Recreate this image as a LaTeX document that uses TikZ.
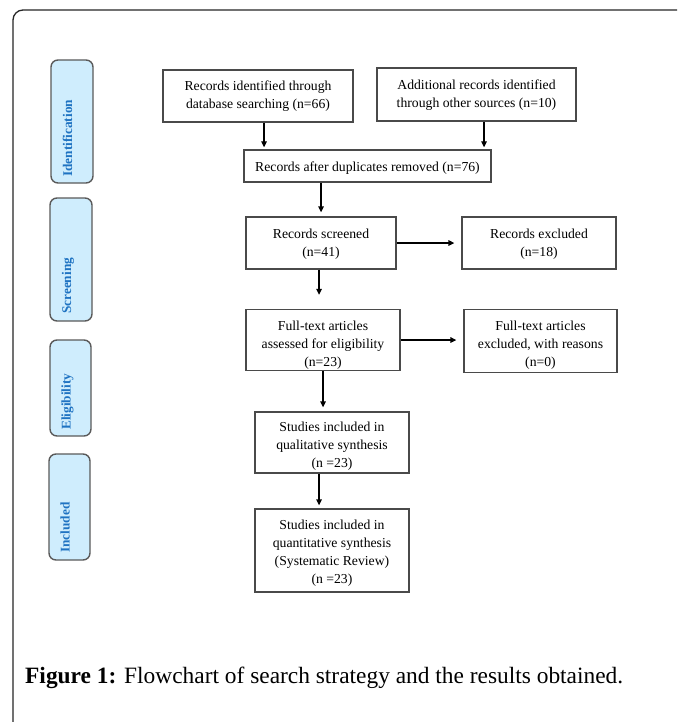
\documentclass[tikz,border=0pt]{standalone}
\usepackage{fontspec}
\setmainfont{Liberation Serif}
\usetikzlibrary{arrows.meta}
\definecolor{pillfill}{HTML}{CFEDFD}
\definecolor{pilltext}{HTML}{1F73C2}
\definecolor{pillline}{HTML}{5A5A5A}
\definecolor{boxline}{HTML}{4A4A4A}
\begin{document}
\begin{tikzpicture}[x=1pt,y=-1pt,
  box/.style n args={2}{draw=boxline, line width=1.3pt, minimum width=#1, minimum height=#2, inner sep=0pt},
  txt/.style={align=center, inner sep=0pt, font=\fontsize{13.7}{18}\selectfont},
  pill/.style n args={2}{draw=pillline, fill=pillfill, line width=1.4pt, rounded corners=7pt, minimum width=#1, minimum height=#2, inner sep=0pt},
  pilllab/.style={rotate=90, anchor=base west, inner sep=0pt, text=pilltext, font=\fontsize{13.3}{14}\selectfont\bfseries},
  arr/.style={draw=black, line width=1.3pt, -{Triangle[length=6pt,width=5.5pt]}}]
\useasboundingbox (0,0) rectangle (677,722);
\fill[white] (0,0) rectangle (677,722);
% outer frame
\draw[line width=1.3pt, black!85, rounded corners=10pt] (13,722) -- (13,10) -- (677,10);

% phase pills
\node[pill={42}{123}] (pid) at (72,121.5) {};
\node[pilllab] (lid) at (72,177) {Identification};
\node[pill={42}{123}] (psc) at (71,259.5) {};
\node[pilllab] (lsc) at (71,314) {Screening};
\node[pill={41}{96}] (pel) at (70.5,388) {};
\node[pilllab] (lel) at (70.5,430) {Eligibility};
\node[pill={41}{106}] (pin) at (69.5,507) {};
\node[pilllab] (lin) at (69.5,553) {Included};

% boxes
\node[box={190}{52}] (b1) at (258,96) {};
\node[txt] (t1) at (258,96) {Records identified through\\database searching (n=66)};
\node[box={199}{53}] (b2) at (476.5,94.5) {};
\node[txt] (t2) at (476.5,95) {Additional records identified\\through other sources (n=10)};
\node[box={247}{32}] (b3) at (367.5,166) {};
\node[txt] (t3) at (367.5,168) {Records after duplicates removed (n=76)};
\node[box={150}{52}] (s) at (321,243) {};
\node[txt] (ts) at (321,244) {Records screened\\(n=41)};
\node[box={154}{52}] (ex) at (539,243) {};
\node[txt] (tex) at (539,244) {Records excluded\\(n=18)};
\node[box={154}{61}] (f) at (323,340) {};
\node[txt] (tf) at (323,345) {Full-text articles\\assessed for eligibility\\(n=23)};
\node[box={153}{63}] (er) at (540.5,341) {};
\node[txt] (ter) at (540.5,345) {Full-text articles\\excluded, with reasons\\(n=0)};
\node[box={154}{61}] (q) at (332,442.5) {};
\node[txt] (tq) at (332,446.5) {Studies included in\\qualitative synthesis\\(n =23)};
\node[box={154}{83}] (qt) at (332,550.5) {};
\node[txt] (tqt) at (332,553) {Studies included in\\quantitative synthesis\\(Systematic Review)\\(n =23)};

% connectors
\draw[arr, shorten >=2pt] ([xshift=6pt]b1.south) -- ([xshift=6pt]b1.south |- b3.north);
\draw[arr, shorten >=2pt] ([xshift=7.5pt]b2.south) -- ([xshift=7.5pt]b2.south |- b3.north);
\draw[arr, shorten >=4pt] (b3.south -| s.north) -- (s.north);
\draw[arr, shorten >=7pt] (s.east) -- (s.east -| ex.west);
\draw[arr, shorten >=14pt] ([xshift=-2pt]s.south) -- ([xshift=-2pt]s.south |- f.north);
\draw[arr, shorten >=7pt] (f.east) -- (f.east -| er.west);
\draw[arr, shorten >=4pt] (f.south) -- (f.south |- q.north);
\draw[arr, shorten >=3pt] ([xshift=-13pt]q.south) -- ([xshift=-13pt]q.south |- qt.north);

% caption
\node[anchor=base west, inner sep=0pt, font=\fontsize{23.4}{26}\selectfont] (cap) at (25,683) {\textbf{Figure 1:} Flowchart of search strategy and the results obtained.};
\end{tikzpicture}
\end{document}
